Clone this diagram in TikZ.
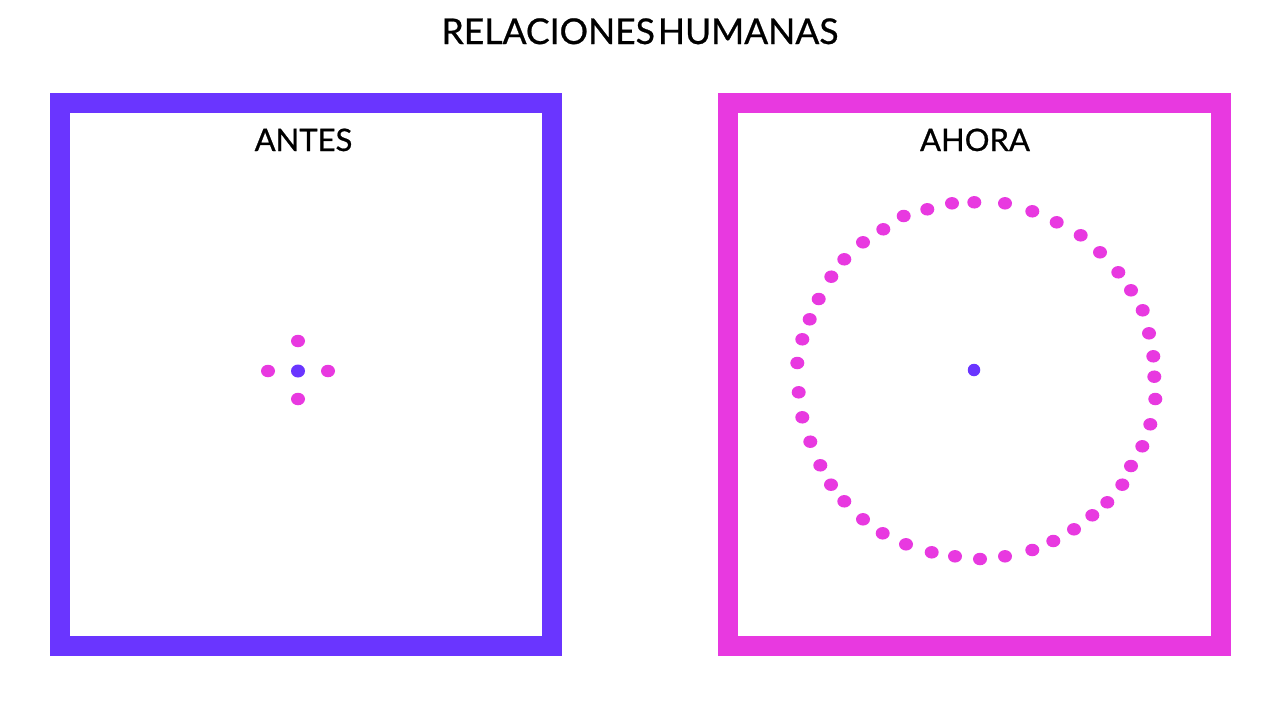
\documentclass[tikz,border=0pt]{standalone}
\usepackage{fontspec}
\setmainfont{Lato}
\newfontfamily\titulofont[FakeBold=0.7]{Lato}
\usetikzlibrary{shapes.geometric}
\definecolor{violeta}{HTML}{6A35FF}
\definecolor{rosa}{HTML}{E839E0}
\begin{document}
\begin{tikzpicture}[x=1pt,y=-1pt]

      \useasboundingbox[fill=white] (0,0) rectangle (1280,720);

      \node[anchor=base,inner sep=0] (titulo) at (640,44) {\titulofont\fontsize{35.5}{40}\selectfont RELACIONES\hspace{3pt}HUMANAS};

      \draw[violeta,line width=20pt] (59.5,103) rectangle (552,646);
      \draw[rosa,line width=20pt] (728,103) rectangle (1221,646);

      \begin{scope}[every node/.style={anchor=base,inner sep=0,font=\titulofont\fontsize{31}{36}\selectfont}]
        \node (antes) at (303.5,151) {ANTES};
        \node (ahora) at (975,151) {AHORA};
      \end{scope}

      \begin{scope}[every node/.style={ellipse,fill=rosa,inner sep=0,minimum width=14pt,minimum height=12.5pt}]
        \node[fill=violeta,minimum height=13pt] (yo)  at (298,371)  {};
        \node (a1) at (298,341) {};
        \node (a2) at (268,371) {};
        \node (a3) at (328,371) {};
        \node (a4) at (298,399) {};

        \node[fill=violeta,minimum width=12.5pt,minimum height=12.5pt] (yo2) at (974,370) {};
        \foreach \x/\y [count=\i] in {974.3/202.3, 1005/203.3, 1032.3/211.3, 1056.7/222.3,
            1080.7/235.3, 1100/252.3, 1118.3/272.3, 1131/290.3, 1142.7/310.3, 1149/333.3,
            1153.3/356.3, 1154.3/376.7, 1155.3/399, 1150.3/424.3, 1142.3/446.3, 1131/466,
            1122.3/484.7, 1107.3/502.3, 1092.3/515.3, 1074/529.3, 1053.3/541, 1032.3/550,
            1005/556.3, 980/559, 955/556.3, 931.7/552.3, 906/544.3, 882.7/533.3, 863/519.3,
            844.3/501.3, 831/484.7, 820.3/465.3, 810.3/441.7, 802.3/417.3, 798.7/392.3,
            797.3/363, 802.3/339.3, 809.7/319.3, 818.7/299, 831.3/276.7, 844.3/259.3,
            863/242.3, 883.3/229.3, 903.7/216, 927.3/209.3, 952/203.3}
          \node (r\i) at (\x,\y) {};
      \end{scope}

    \end{tikzpicture}
\end{document}
